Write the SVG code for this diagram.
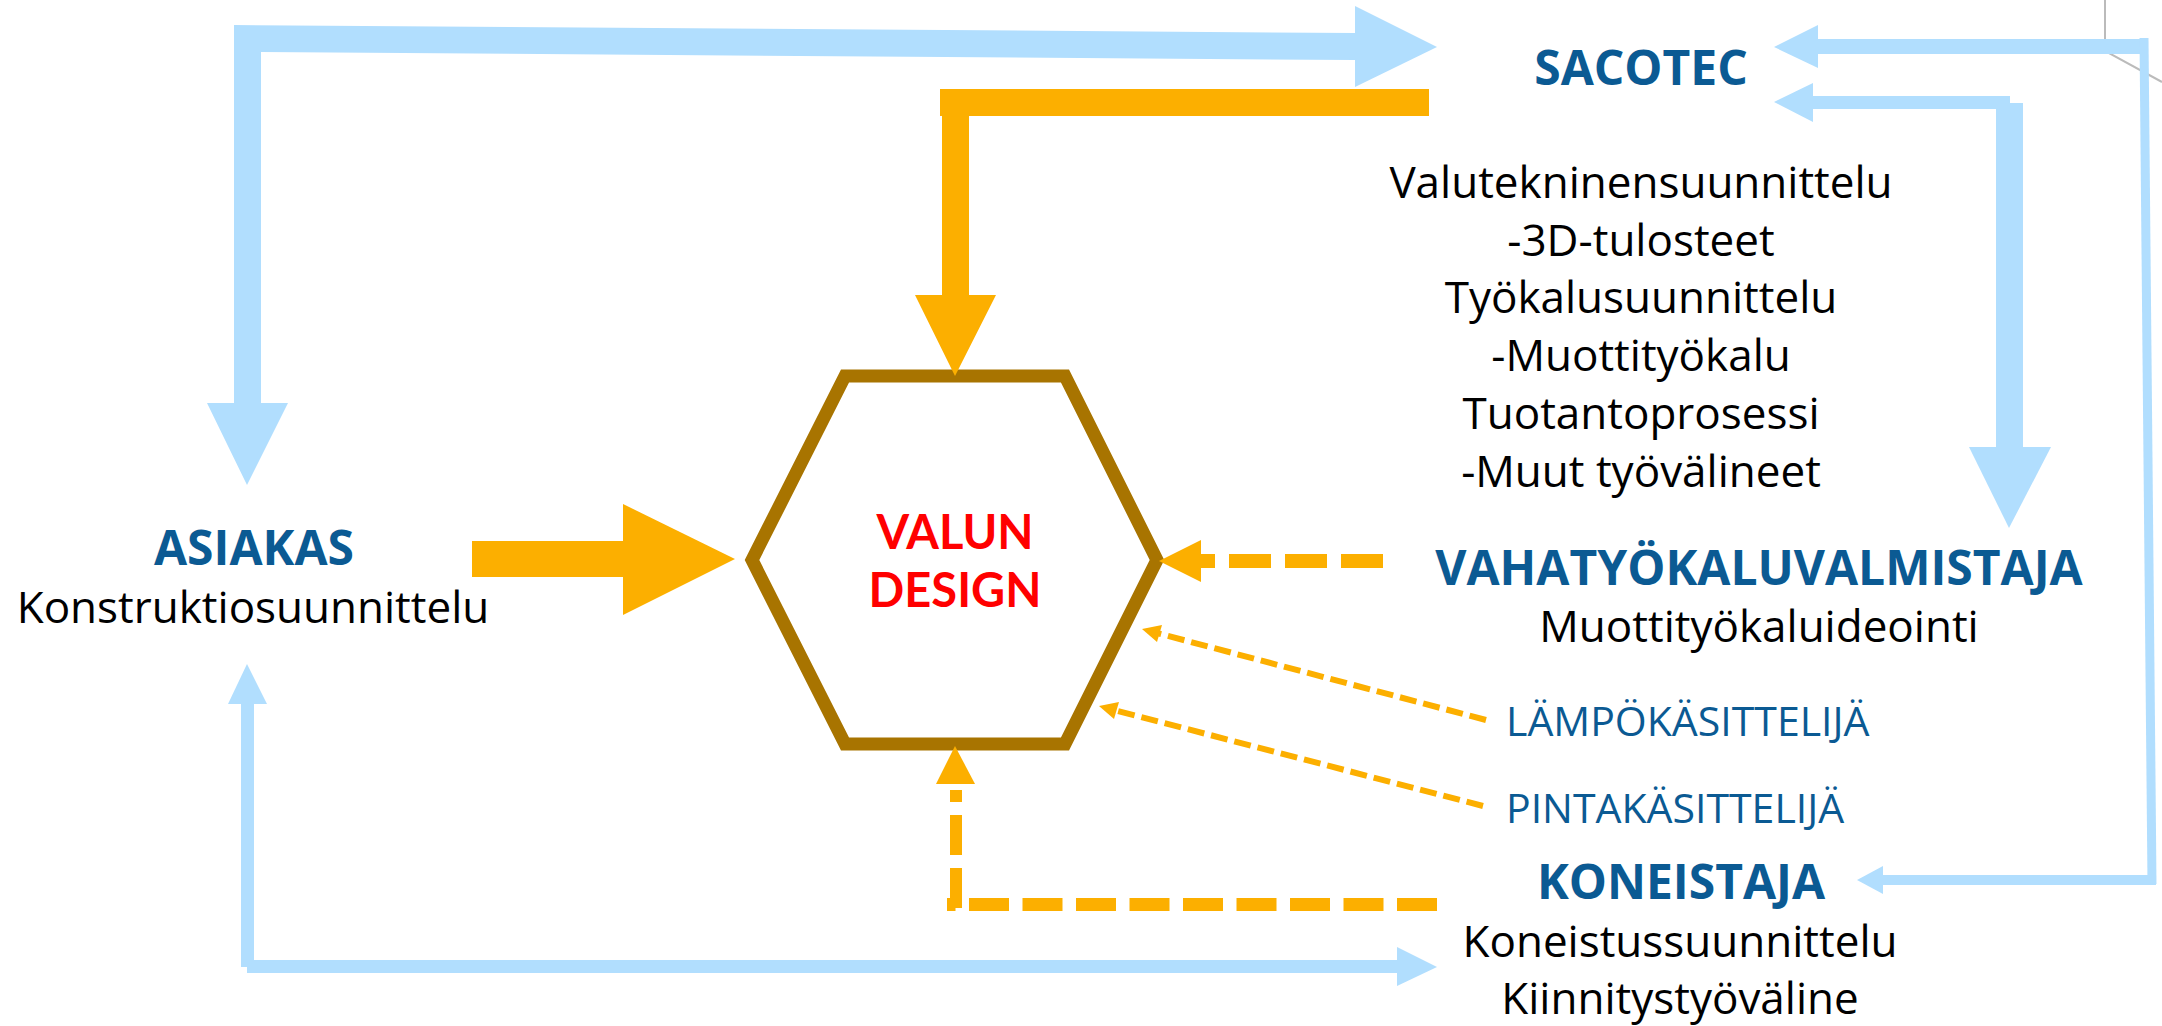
<svg xmlns="http://www.w3.org/2000/svg" width="2162" height="1026" viewBox="0 0 2162 1026">
  <style>
    .body { font-family: "Open Sans", "Liberation Sans", sans-serif; font-size: 44px; fill: #000; text-anchor: middle; }
    .title { font-family: "Open Sans", "Liberation Sans", sans-serif; font-size: 48px; font-weight: bold; fill: #0B5A93; text-anchor: middle; }
    .role { font-family: "Open Sans", "Liberation Sans", sans-serif; font-size: 41px; fill: #0B5A93; }
    .core { font-family: Lato, "Open Sans", sans-serif; font-size: 47px; font-weight: bold; fill: #FF0000; text-anchor: middle; }
    .blue { fill: #B1DEFE; }
    .orange { fill: #FCAF00; }
    .dash-heavy { stroke: #FCAF00; fill: none; }
    .dash-thin { stroke: #FCAF00; fill: none; stroke-width: 6; stroke-dasharray: 17 7; }
  </style>

  <rect width="2162" height="1026" fill="#FFFFFF"/>

  <!-- stray frame edge in the top-right corner -->
  <path d="M2105,0 V51 L2162,82" fill="none" stroke="#BBBBBB" stroke-width="2"/>

  <!-- central hexagon -->
  <g id="node-valun-design">
    <polygon points="845,376 1065,376 1157,560 1065,744 845,744 752,560" fill="#FFFFFF" stroke="#A87400" stroke-width="13" stroke-linejoin="miter"/>
    <text class="core" x="955" y="549">VALUN<tspan x="955" dy="58">DESIGN</tspan></text>
  </g>

  <g id="node-sacotec">
    <text class="title" x="1641" y="85">SACOTEC</text>
    <text class="body" x="1641" y="198">Valutekninensuunnittelu</text>
    <text class="body" x="1641" y="256">-3D-tulosteet</text>
    <text class="body" x="1641" y="313">Työkalusuunnittelu</text>
    <text class="body" x="1641" y="371">-Muottityökalu</text>
    <text class="body" x="1641" y="429">Tuotantoprosessi</text>
    <text class="body" x="1641" y="487">-Muut työvälineet</text>
  </g>

  <g id="node-asiakas">
    <text class="title" x="254" y="565">ASIAKAS</text>
    <text class="body" x="253" y="623">Konstruktiosuunnittelu</text>
  </g>

  <g id="node-vahatyokaluvalmistaja">
    <text class="title" x="1759" y="585">VAHATYÖKALUVALMISTAJA</text>
    <text class="body" x="1759" y="642">Muottityökaluideointi</text>
  </g>

  <g id="node-lampokasittelija">
    <text class="role" x="1506" y="736">LÄMPÖKÄSITTELIJÄ</text>
  </g>

  <g id="node-pintakasittelija">
    <text class="role" x="1506" y="823">PINTAKÄSITTELIJÄ</text>
  </g>

  <g id="node-koneistaja">
    <text class="title" x="1681" y="899">KONEISTAJA</text>
    <text class="body" x="1680" y="957">Koneistussuunnittelu</text>
    <text class="body" x="1680" y="1014">Kiinnitystyöväline</text>
  </g>

  <g id="connectors">
    <!-- ASIAKAS <-> SACOTEC, wide light-blue elbow -->
    <polygon class="blue" points="234,25 1355,33 1355,60 261,52 261,403 288,403 247,485 207,403 234,403"/>
    <polygon class="blue" points="1355,6 1437,47 1355,87"/>

    <!-- SACOTEC -> VALUN DESIGN -->
    <polygon class="orange" points="940,89 1429,89 1429,116 969,116 969,295 996,295 955,376 915,295 942,295 942,116 940,116"/>

    <!-- ASIAKAS -> VALUN DESIGN -->
    <rect class="orange" x="472" y="541" width="152" height="36"/>
    <polygon class="orange" points="623,504 735,559 623,615"/>

    <!-- SACOTEC <-> VAHATYÖKALUVALMISTAJA -->
    <rect class="blue" x="1812" y="96" width="198" height="13"/>
    <polygon class="blue" points="1774,102 1813,83 1813,122"/>
    <rect class="blue" x="1996" y="103" width="27" height="345"/>
    <polygon class="blue" points="1969,447 2051,447 2009,528"/>

    <!-- SACOTEC <-> KONEISTAJA, thin light-blue loop on the right -->
    <rect class="blue" x="1817" y="39" width="331" height="15"/>
    <polygon class="blue" points="1774,47 1818,25 1818,68"/>
    <line x1="2144" y1="38" x2="2152" y2="884" stroke="#B1DEFE" stroke-width="9"/>
    <rect class="blue" x="1882" y="875" width="274" height="10"/>
    <polygon class="blue" points="1857,880 1883,866 1883,894"/>

    <!-- ASIAKAS <-> KONEISTAJA, bottom elbow -->
    <rect class="blue" x="241" y="703" width="13" height="264"/>
    <polygon class="blue" points="247,664 228,704 267,704"/>
    <rect class="blue" x="247" y="960" width="1151" height="13"/>
    <polygon class="blue" points="1397,947 1437,967 1397,986"/>

    <!-- VAHATYÖKALUVALMISTAJA -> VALUN DESIGN -->
    <line class="dash-heavy" x1="1383" y1="561" x2="1201" y2="561" stroke-width="14" stroke-dasharray="42 14"/>
    <polygon class="orange" points="1159,561 1201,540 1201,582"/>

    <!-- LÄMPÖKÄSITTELIJÄ -> VALUN DESIGN -->
    <line class="dash-thin" x1="1486" y1="720" x2="1157" y2="633"/>
    <polygon class="orange" points="1142,629 1157,642 1162,625"/>

    <!-- PINTAKÄSITTELIJÄ -> VALUN DESIGN -->
    <line class="dash-thin" x1="1483" y1="806" x2="1114" y2="710"/>
    <polygon class="orange" points="1099,706 1114,719 1119,702"/>

    <!-- KONEISTAJA -> VALUN DESIGN -->
    <line class="dash-heavy" x1="1437" y1="904.5" x2="947" y2="904.5" stroke-width="13" stroke-dasharray="40 13.5"/>
    <line class="dash-heavy" x1="956" y1="908" x2="956" y2="790" stroke-width="12" stroke-dasharray="40 13"/>
    <polygon class="orange" points="955,746 936,784 975,784"/>
  </g>
</svg>
